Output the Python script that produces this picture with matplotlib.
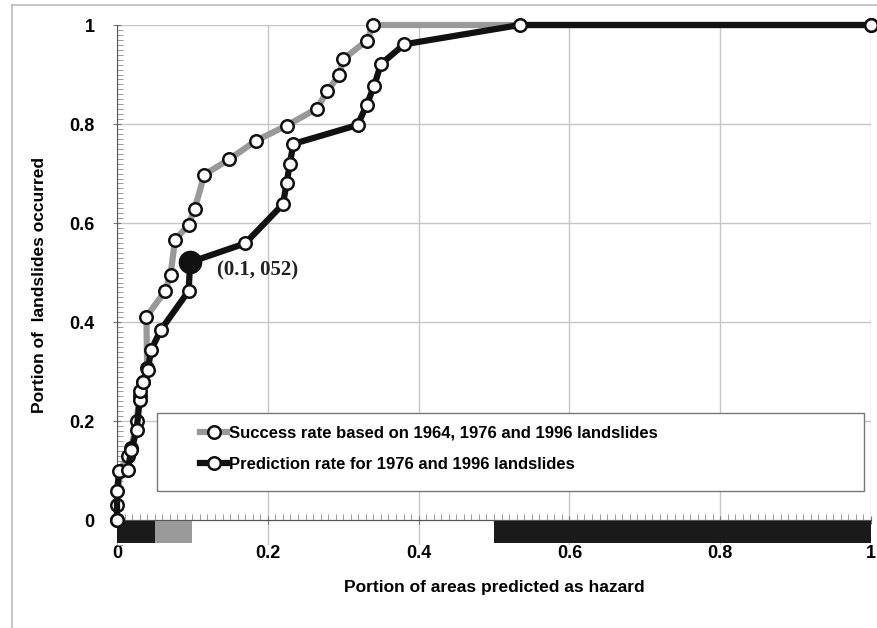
import numpy as np
import matplotlib
matplotlib.use('Agg')
from matplotlib import pyplot as plt
from matplotlib.patches import Rectangle
from matplotlib.lines import Line2D
from matplotlib.ticker import MultipleLocator

# success rate curve (1964, 1976, 1996 landslides)
success_x = [0.0, 0.0, 0.004, 0.014, 0.019, 0.026, 0.030, 0.035, 0.040, 0.039,
             0.064, 0.071, 0.077, 0.095, 0.103, 0.116, 0.149, 0.184, 0.225,
             0.265, 0.279, 0.295, 0.300, 0.331, 0.340, 1.0]
success_y = [0.0, 0.03, 0.10, 0.13, 0.145, 0.20, 0.25, 0.28, 0.307, 0.411,
             0.463, 0.496, 0.566, 0.597, 0.629, 0.698, 0.729, 0.766, 0.797,
             0.831, 0.867, 0.899, 0.931, 0.968, 1.0, 1.0]

# prediction rate curve (1976, 1996 landslides)
pred_x = [0.0, 0.0, 0.003, 0.014, 0.019, 0.026, 0.030, 0.031, 0.035, 0.041,
          0.045, 0.058, 0.095, 0.097, 0.170, 0.220, 0.225, 0.229, 0.234,
          0.319, 0.331, 0.341, 0.350, 0.381, 0.534, 1.0]
pred_y = [0.0, 0.059, 0.100, 0.101, 0.141, 0.182, 0.242, 0.261, 0.279, 0.304,
          0.343, 0.384, 0.463, 0.521, 0.559, 0.638, 0.680, 0.719, 0.760,
          0.798, 0.838, 0.877, 0.921, 0.961, 1.0, 1.0]

highlight = (0.097, 0.521)
highlight_label = '(0.1, 052)'

# class bars drawn under the x axis
bar_start = [0.0, 0.05, 0.5]
bar_end = [0.05, 0.1, 1.0]
bar_colors = ['#1a1a1a', '#9a9a9a', '#1a1a1a']

labels = ['Success rate based on 1964, 1976 and 1996 landslides',
          'Prediction rate for 1976 and 1996 landslides']

sans = ['Liberation Sans', 'DejaVu Sans']
plt.rcParams['font.family'] = sans
plt.rcParams['font.weight'] = 'bold'

fig = plt.figure(figsize=(8.77, 6.28), dpi=100)
W, H = 877, 628
ax = fig.add_axes([117 / W, 1 - 545 / H, 754 / W, 520 / H])

# faint frame of the scanned figure
fig.add_artist(Line2D([12 / W, 12 / W], [0, 1 - 5 / H], color='#bbbbbb', lw=1.2))
fig.add_artist(Line2D([12 / W, 1], [1 - 5 / H, 1 - 5 / H], color='#bbbbbb', lw=1.2))

ax.set_xlim(0, 1)
ax.set_ylim(-0.05, 1.0)

for s in ['top', 'right']:
    ax.spines[s].set_visible(False)
ax.spines['bottom'].set_position(('data', 0))
ax.spines['left'].set_bounds(0, 1)
ax.spines['left'].set_color('#555555')
ax.spines['bottom'].set_color('#555555')

ax.xaxis.set_minor_locator(MultipleLocator(0.01))
ax.yaxis.set_minor_locator(MultipleLocator(0.01))
ax.set_yticks([0, 0.2, 0.4, 0.6, 0.8, 1.0])
ax.set_yticklabels(['0', '0.2', '0.4', '0.6', '0.8', '1'])
ax.set_xticks([0, 0.2, 0.4, 0.6, 0.8, 1.0])
ax.set_xticklabels(['0', '0.2', '0.4', '0.6', '0.8', '1'])
ax.tick_params(axis='both', which='major', labelsize=13, direction='inout',
               length=6, color='#777777')
ax.tick_params(axis='both', which='minor', direction='in', length=4,
               color='#999999', width=0.7)
ax.tick_params(axis='x', which='major', pad=15)
ax.tick_params(axis='y', which='major', pad=13)

ax.grid(True, which='major', color='#c6c6c6', lw=1)
ax.set_axisbelow(True)

for x0, x1, c in zip(bar_start, bar_end, bar_colors):
    ax.bar(x0, -0.046, width=x1 - x0, bottom=0, align='edge', color=c,
           edgecolor='none', zorder=1)

ax.plot(success_x, success_y, color='#999999', lw=4.5, marker='o', ms=9,
        mfc='white', mec='#111111', mew=1.8, clip_on=False, zorder=4)
ax.plot(pred_x, pred_y, color='#111111', lw=4.5, marker='o', ms=9,
        mfc='white', mec='#111111', mew=1.8, clip_on=False, zorder=5)
ax.plot([highlight[0]], [highlight[1]], marker='o', ms=16, color='#111111',
        zorder=6)
ax.annotate(highlight_label, xy=highlight, xytext=(19, -6),
            textcoords='offset points', fontsize=15, fontweight='bold',
            family=['Liberation Serif', 'DejaVu Serif'], color='#222222',
            va='center', ha='left', zorder=7)

# legend box
ax.add_patch(Rectangle((0.053, 0.059), 0.938, 0.157, facecolor='white',
                       edgecolor='#777777', lw=1, zorder=3))
handles = [Line2D([], [], color='#999999', lw=4.5, marker='o', ms=9,
                  mfc='white', mec='#111111', mew=1.8),
           Line2D([], [], color='#111111', lw=4.5, marker='o', ms=9,
                  mfc='white', mec='#111111', mew=1.8)]
leg = ax.legend(handles, labels, frameon=False, loc='center left',
                bbox_to_anchor=(0.095, 0.1445), bbox_transform=ax.transData,
                fontsize=12, handlelength=1.6, handletextpad=0.15,
                labelspacing=1.0, borderpad=0.2)
leg.set_zorder(8)

ax.set_xlabel('Portion of areas predicted as hazard', fontsize=12.5,
              fontweight='bold', labelpad=13)
ax.set_ylabel('Portion of  landslides occurred', fontsize=12.5,
              fontweight='bold', labelpad=16)

fig.savefig('out.png', dpi=100)
